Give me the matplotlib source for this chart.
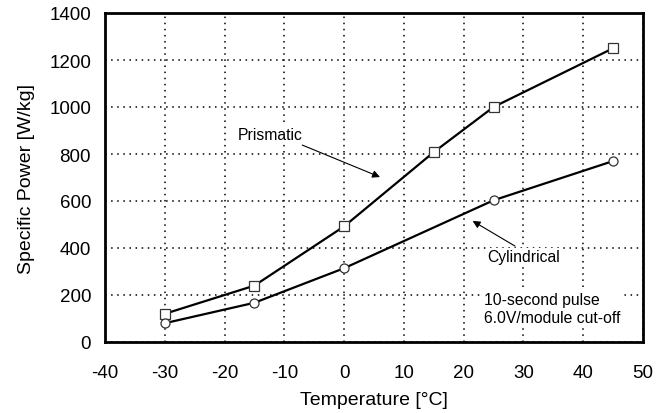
import matplotlib
matplotlib.use('Agg')
import matplotlib.pyplot as plt

plt.rcParams['font.family'] = ['Liberation Sans', 'DejaVu Sans']
plt.rcParams['axes.unicode_minus'] = False

temp_prismatic = [-30, -15, 0, 15, 25, 45]
power_prismatic = [120, 240, 492, 808, 1000, 1250]
temp_cylindrical = [-30, -15, 0, 25, 45]
power_cylindrical = [80, 167, 314, 603, 770]
x_ticks = [-40, -30, -20, -10, 0, 10, 20, 30, 40, 50]
y_ticks = [0, 200, 400, 600, 800, 1000, 1200, 1400]

fig = plt.figure(figsize=(6.69, 4.14), dpi=100)
ax = fig.add_axes([105 / 669, 1 - 343 / 414, 538 / 669, 329 / 414])

ax.plot(temp_prismatic, power_prismatic, '-s', color='black', lw=1.6,
        ms=6.5, mfc='white', mec='#333333', mew=0.9, zorder=3)
ax.plot(temp_cylindrical, power_cylindrical, '-o', color='black', lw=1.6,
        ms=6.5, mfc='white', mec='#333333', mew=0.9, zorder=3)

ax.set_xlim(-40, 50)
ax.set_ylim(0, 1400)
ax.set_xticks(x_ticks)
ax.set_yticks(y_ticks)
ax.tick_params(length=0, labelsize=13.5)
ax.tick_params(axis='x', pad=16)
ax.tick_params(axis='y', pad=10)
ax.grid(True, color='black', linestyle=(0, (1, 3)), linewidth=1.1)
for s in ax.spines.values():
    s.set_linewidth(2)

ax.set_xlabel('Temperature [°C]', fontsize=14, labelpad=7)
ax.set_ylabel('Specific Power [W/kg]', fontsize=14, labelpad=10)

# labels and pointer arrows
ax.text(-12.4, 885, 'Prismatic', ha='center', va='center', fontsize=11.3,
        bbox=dict(fc='white', ec='none', pad=1))
ax.annotate('', xy=(6.0, 702), xytext=(-7.0, 838),
            arrowprops=dict(arrowstyle='-|>', color='black', lw=0.8,
                            shrinkA=0, shrinkB=0, mutation_scale=11))
ax.text(30.0, 362, 'Cylindrical', ha='center', va='center', fontsize=11.3,
        bbox=dict(fc='white', ec='none', pad=1))
ax.annotate('', xy=(21.5, 515), xytext=(28.6, 408),
            arrowprops=dict(arrowstyle='-|>', color='black', lw=0.8,
                            shrinkA=0, shrinkB=0, mutation_scale=11))
ax.text(23.4, 143, '10-second pulse\n6.0V/module cut-off', fontsize=11.3,
        ha='left', va='center', linespacing=1.25,
        bbox=dict(fc='white', ec='none', pad=1))

fig.savefig('out.png', dpi=100)
